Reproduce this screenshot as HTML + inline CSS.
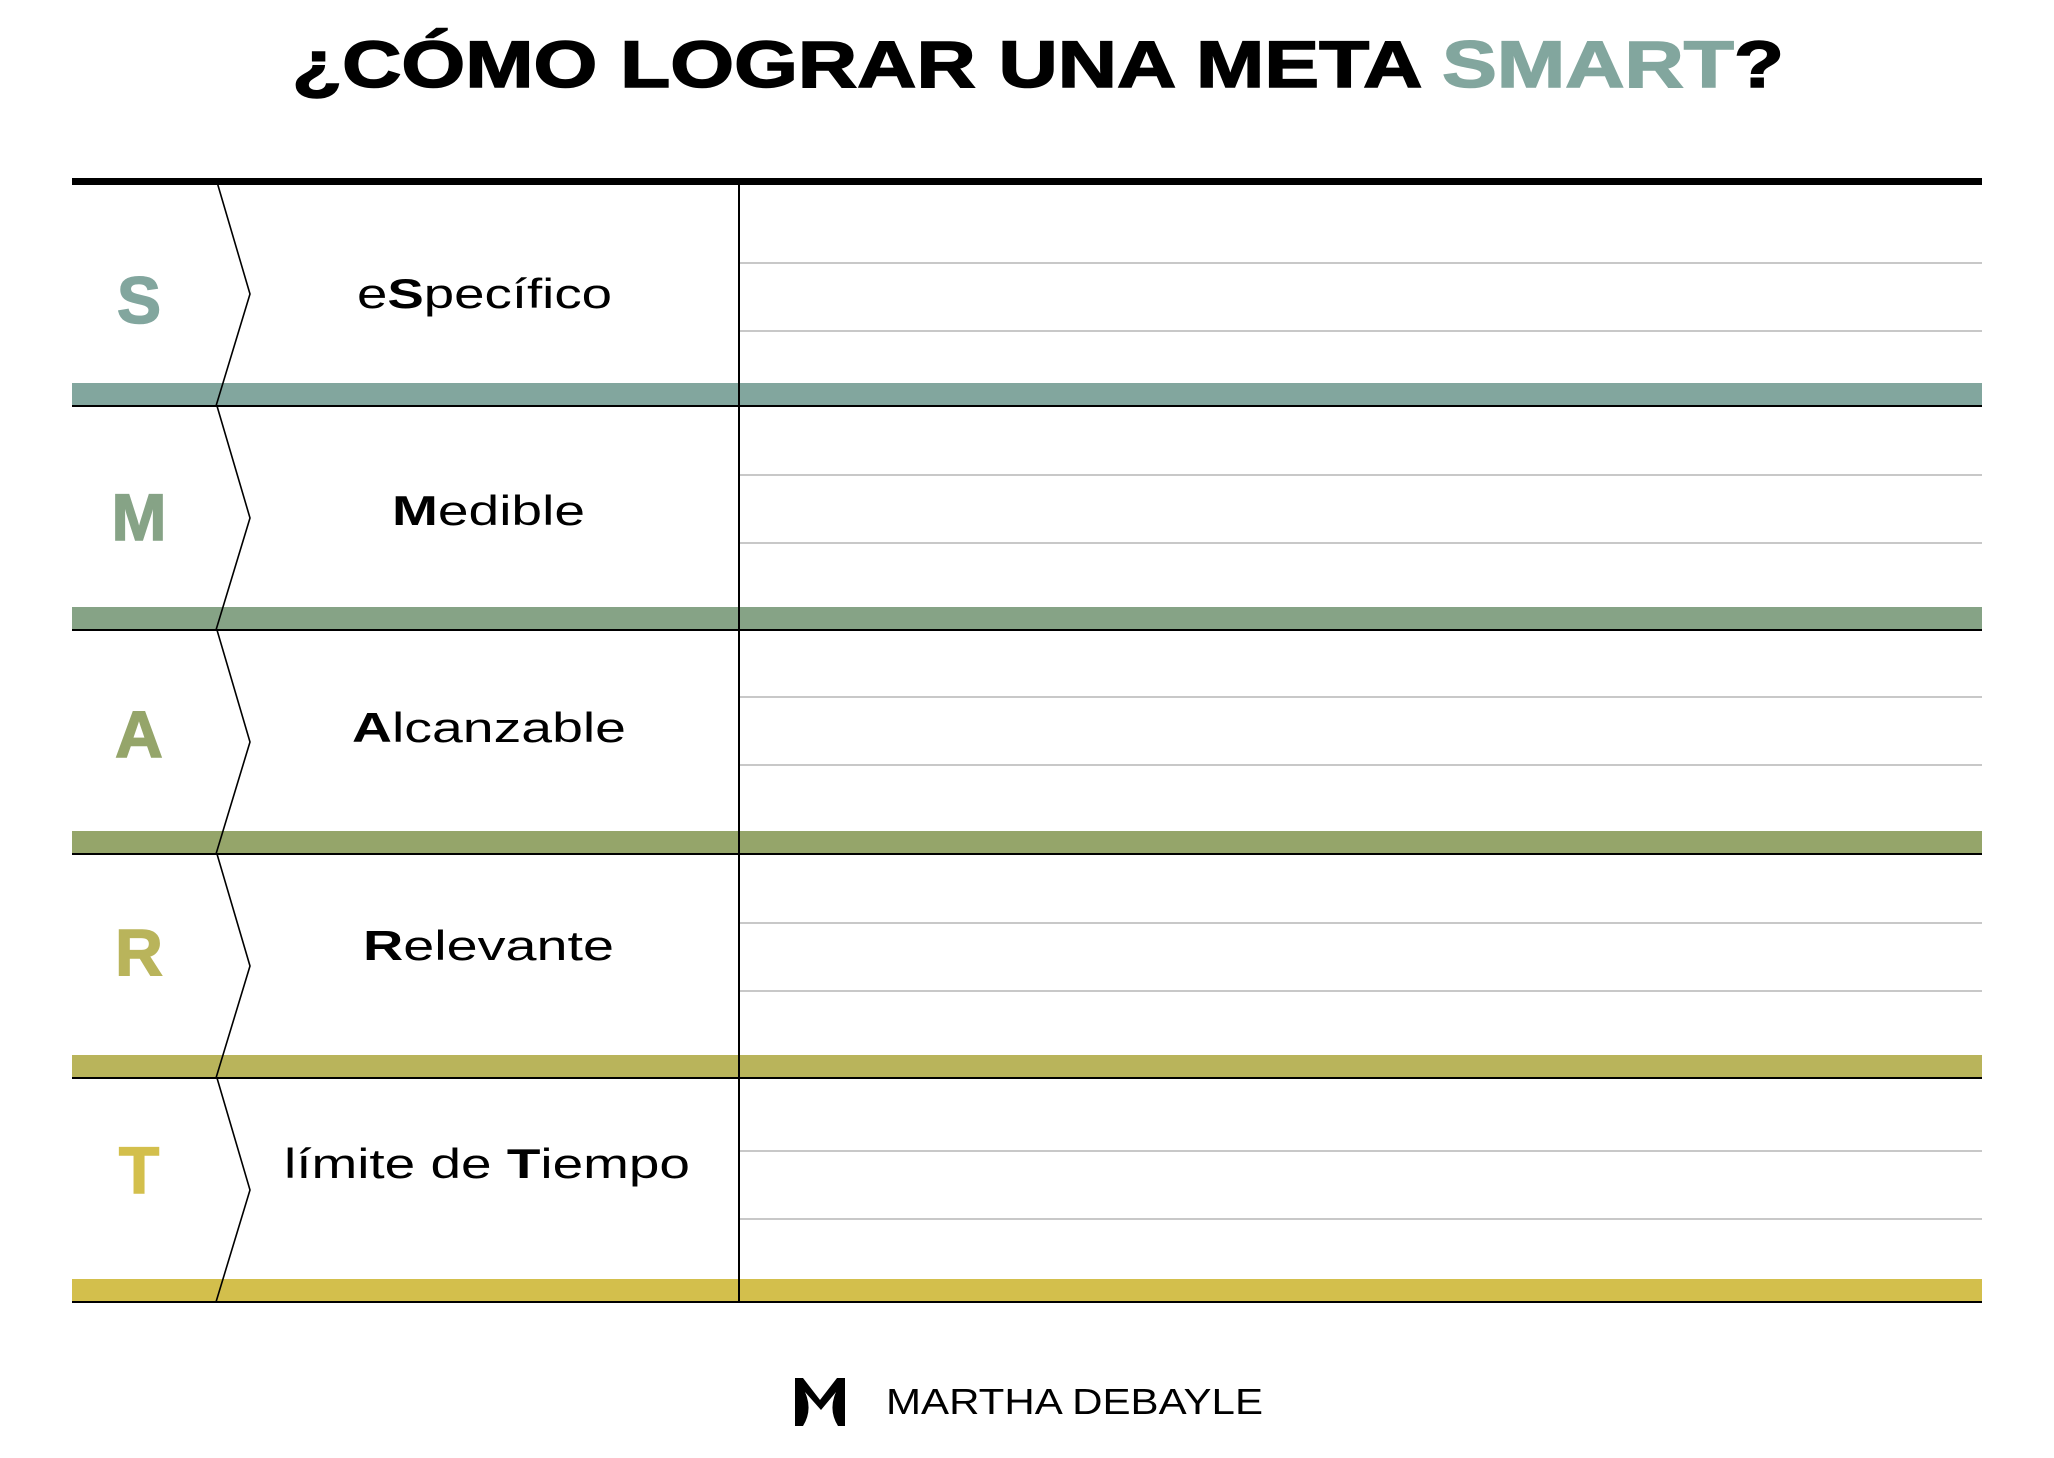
<!DOCTYPE html>
<html><head><meta charset="utf-8"><style>
html,body{margin:0;padding:0;background:#fff;}
svg{display:block;}
text{font-family:"Liberation Sans",sans-serif;}
</style></head><body>
<svg width="2054" height="1458" viewBox="0 0 2054 1458">
<text x="292" y="87" font-size="66" font-weight="bold" textLength="1492" lengthAdjust="spacingAndGlyphs" fill="#000" stroke="#000" stroke-width="1.5">¿CÓMO LOGRAR UNA META <tspan fill="#82a69e" stroke="#82a69e">SMART</tspan>?</text>
<g id="rows"></g>
<rect x="72" y="178" width="1910" height="7" fill="#000"/>
<g>
<path d="M795 1378 L803 1378 L820 1400 L837 1378 L845 1378 L845 1426 L838 1426 Q828 1410 836 1392 L821 1410 L805 1392 Q813 1410 803 1426 L795 1426 Z" fill="#000"/>
<text x="886" y="1414" font-size="36" textLength="377" lengthAdjust="spacingAndGlyphs" fill="#000">MARTHA DEBAYLE</text>
</g>
</svg>
<script>
const letters=['S','M','A','R','T'];
const colors=['#82a69e','#86a386','#95a56a','#b9b45b','#d3bf4c'];
const pre=['e','','','','límite de '];
const bold=['S','M','A','R','T'];
const post=['pecífico','edible','lcanzable','elevante','iempo'];
const tx=[357,392,352,363,284];
const tw=[255,193,274,251,406];
const NS='http://www.w3.org/2000/svg';
const g=document.getElementById('rows');
const lineOffs=[[80,148],[68,136],[66,134],[68,136],[72,140]];
const shift=[0,7,14,20,26];
function mk(t,a){const e=document.createElementNS(NS,t);for(const k in a)e.setAttribute(k,a[k]);g.appendChild(e);return e;}
for(let i=0;i<5;i++){
  const b=182+224*i, e2=b+224;
  const band=mk('rect',{x:72,y:e2-23,width:1910,height:22,fill:colors[i]});
  
  
  const bl=mk('rect',{x:72,y:e2-1,width:1910,height:2,fill:'#000'});
  
  
  for(const off of lineOffs[i]){
    const gl=mk('rect',{x:740,y:b+off,width:1242,height:2,fill:'#c8c8c8'});
    
    
  }
  const ch=mk('polyline',{points:`217,${b} 250,${b+112} 216,${e2}`,fill:'none',stroke:'#000','stroke-width':1.6});
  
  
  const vd=mk('rect',{x:738,y:b,width:2,height:224,fill:'#000'});
  
  
  const L=mk('text',{x:139,y:b+141-shift[i],'font-size':66,'font-weight':'bold','text-anchor':'middle',fill:colors[i],stroke:colors[i],'stroke-width':1.5});
  L.textContent=letters[i];
  
  
  const T=mk('text',{x:tx[i],y:b+126-shift[i],'font-size':42,fill:'#000',textLength:tw[i],lengthAdjust:'spacingAndGlyphs'});
  
  
  const s1=document.createElementNS(NS,'tspan');s1.textContent=pre[i];T.appendChild(s1);
  const s2=document.createElementNS(NS,'tspan');s2.setAttribute('font-weight','bold');s2.textContent=bold[i];T.appendChild(s2);
  const s3=document.createElementNS(NS,'tspan');s3.textContent=post[i];T.appendChild(s3);
}
</script>
</body></html>
